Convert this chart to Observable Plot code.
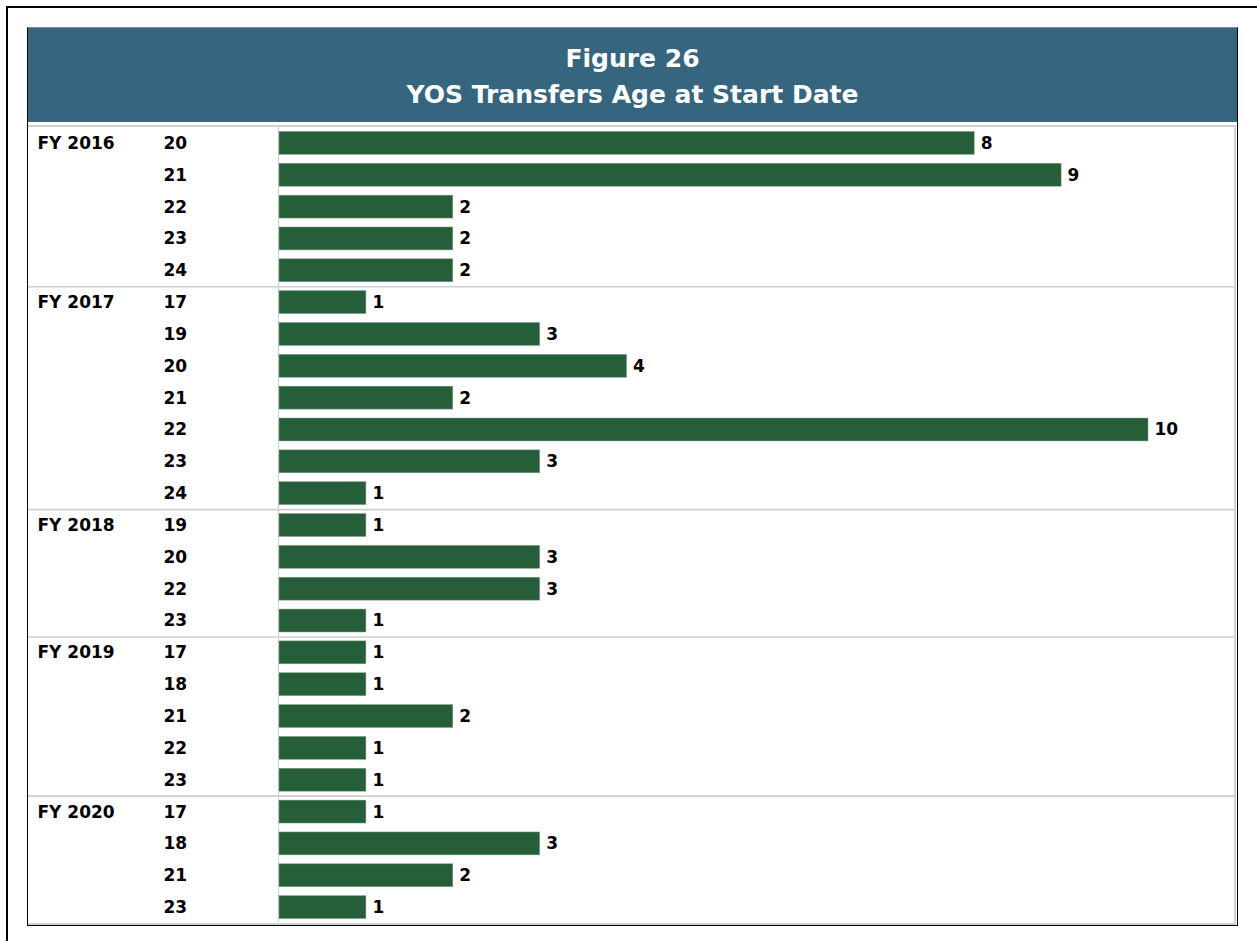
<!DOCTYPE html>
<html>
<head>
<meta charset="utf-8">
<script src="https://cdn.jsdelivr.net/npm/d3@7"></script>
<script src="https://cdn.jsdelivr.net/npm/@observablehq/plot@0.6"></script>
<style>
  html, body { margin: 0; padding: 0; background: #fff; width: 1257px; height: 941px; overflow: hidden; position: relative; }
  .outer { position: absolute; left: 6px; top: 6px; width: 1400px; height: 1100px; border-left: 2px solid #000; border-top: 2px solid #000; }
  .box { position: absolute; left: 27px; top: 27px; width: 1209px; height: 897px; border: 1px solid #000; border-top-color: #8a8a8a; }
  .header { position: absolute; left: 28px; top: 28px; width: 1209px; height: 94px; background: #36657F; color: #fff;
            font-family: "DejaVu Sans", sans-serif; font-weight: bold; font-size: 25px; text-align: center; line-height: 36px; }
  .header .l1 { position: absolute; left: 0; right: 0; top: 13px; }
  .header .l2 { position: absolute; left: 0; right: 0; top: 49px; }
  .table { position: absolute; left: 28px; top: 125px; width: 1206px; height: 796px; border-top: 2px solid #d0d0d0; border-right: 2px solid #d0d0d0; border-bottom: 2px solid #d0d0d0; }
  .table svg { display: block; }
</style>
</head>
<body>
<div class="outer"></div>
<div class="box"></div>
<div class="header"><div class="l1">Figure 26</div><div class="l2">YOS Transfers Age at Start Date</div></div>
<div class="table" id="chart"></div>
<script>
const fiscalYears = ["FY 2016","FY 2016","FY 2016","FY 2016","FY 2016",
  "FY 2017","FY 2017","FY 2017","FY 2017","FY 2017","FY 2017","FY 2017",
  "FY 2018","FY 2018","FY 2018","FY 2018",
  "FY 2019","FY 2019","FY 2019","FY 2019","FY 2019",
  "FY 2020","FY 2020","FY 2020","FY 2020"];
const ages = [20,21,22,23,24, 17,19,20,21,22,23,24, 19,20,22,23, 17,18,21,22,23, 17,18,21,23];
const counts = [8,9,2,2,2, 1,3,4,2,10,3,1, 1,3,3,1, 1,1,2,1,1, 1,3,2,1];

const rows = ages.map((a, i) => ({
  key: String(i), fy: fiscalYears[i], age: String(a), count: counts[i],
  first: i === 0 || fiscalYears[i] !== fiscalYears[i - 1]
}));
const firstRows = rows.filter(d => d.first);
const sepRows = firstRows.slice(1);

const W = 1206, H = 796, ML = 251;
const step = H / rows.length;
const font = "DejaVu Sans, sans-serif";

const chart = Plot.plot({
  width: W, height: H,
  marginTop: 0, marginBottom: 0, marginLeft: ML, marginRight: 0,
  style: { fontFamily: font, fontSize: "17px", fontWeight: "bold", color: "#000", background: "transparent" },
  x: { domain: [0, 10], range: [ML, 1120], axis: null },
  y: { domain: rows.map(d => d.key), paddingInner: 0.28, paddingOuter: 0.14, round: false, axis: null },
  marks: [
    Plot.ruleY(sepRows, { y: "key", dy: -step / 2, insetLeft: -ML, stroke: "#cfcfcf", strokeWidth: 1.6 }),
    Plot.ruleX([0], { dx: -1, stroke: "#cfcfcf", strokeWidth: 1 }),
    Plot.barX(rows, { x: "count", y: "key", fill: "#275E3A", stroke: "#7f9f88", strokeWidth: 0.5 }),
    Plot.text(rows, { x: "count", y: "key", text: d => String(d.count), textAnchor: "start", dx: 6, fill: "#000", fontWeight: "bold", fontSize: 17 }),
    Plot.text(rows, { y: "key", text: "age", frameAnchor: "left", textAnchor: "start", dx: 163 - 279, fill: "#000", fontWeight: "bold", fontSize: 17 }),
    Plot.text(firstRows, { y: "key", text: "fy", frameAnchor: "left", textAnchor: "start", dx: 37 - 279, fill: "#000", fontWeight: "bold", fontSize: 17 })
  ]
});
document.getElementById("chart").appendChild(chart);
</script>
</body>
</html>
